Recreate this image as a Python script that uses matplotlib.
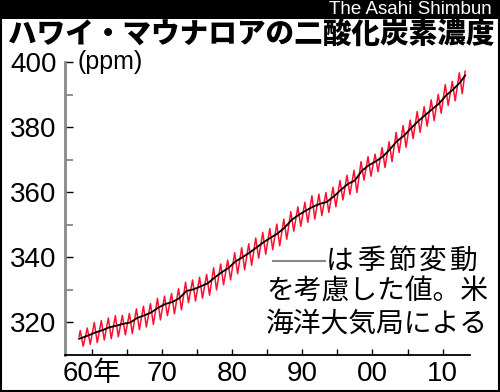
import matplotlib
matplotlib.use("Agg")
import matplotlib.pyplot as plt
import matplotlib.ticker as mticker
from matplotlib.patches import Rectangle
import numpy as np

# Mauna Loa CO2 (ppm)
years = np.arange(1958, 2013)

# seasonal high (around May) and low (around October) of each year
peak_may = [317.5, 318.3, 320.0, 320.6, 321.4, 322.1, 322.2, 322.8, 324.2, 325.0,
            325.8, 327.4, 328.1, 328.9, 330.4, 332.4, 333.1, 333.9, 334.8, 336.8,
            338.0, 339.2, 341.5, 343.0, 344.2, 346.0, 347.7, 348.9, 350.3, 351.8,
            354.1, 355.6, 357.0, 359.0, 359.5, 360.0, 361.6, 363.7, 365.3, 366.8,
            369.5, 371.0, 371.8, 373.8, 375.6, 378.5, 380.6, 382.3, 384.9, 386.4,
            388.5, 390.2, 393.2, 394.2, 396.8]
trough_oct = [312.7, 313.3, 313.8, 314.6, 315.0, 315.6, 316.2, 316.6, 317.8, 318.6,
              319.4, 320.8, 322.1, 322.7, 323.9, 326.1, 326.6, 327.5, 328.4, 330.0,
              331.6, 333.1, 335.0, 336.2, 337.6, 339.8, 341.0, 342.4, 343.6, 345.6,
              348.1, 349.6, 350.8, 351.8, 352.9, 353.9, 355.6, 357.7, 359.4, 360.0,
              363.8, 365.0, 366.4, 367.7, 369.5, 372.3, 373.9, 376.6, 378.5, 380.4,
              382.1, 384.4, 386.8, 388.2, 390.4]
# seasonally adjusted annual values
trend = [315.2, 316.0, 316.9, 317.6, 318.5, 319.0, 319.6, 320.0, 321.4, 322.2,
         323.1, 324.6, 325.7, 326.3, 327.5, 329.7, 330.2, 331.1, 332.0, 333.8,
         335.4, 336.8, 338.8, 340.1, 341.5, 343.1, 344.7, 346.1, 347.4, 349.2,
         351.6, 353.1, 354.4, 355.6, 356.5, 357.1, 358.8, 360.8, 362.6, 363.7,
         366.7, 368.4, 369.6, 371.1, 373.3, 375.8, 377.5, 379.8, 381.9, 383.8,
         385.6, 387.4, 389.9, 391.7, 393.9]
first_month = (1958, 3, 315.7, 315.0)   # year, month, monthly value, adjusted value
last_month = (2013, 3, 397.3, 396.0)

ytick_major = [320, 340, 360, 380, 400]
xtick_major = [1960, 1970, 1980, 1990, 2000, 2010]
xtick_labels = ['60年', '70', '80', '90', '00', '10']

title = 'ハワイ・マウナロアの二酸化炭素濃度'
note_first = 'は季節変動'
note_rest = 'を考慮した値。米\n海洋大気局による'

def dec(y, m):
    return y + (m - 0.5) / 12.0

# monthly zigzag
mx = [dec(first_month[0], first_month[1])]
my = [first_month[2]]
for y, p, t in zip(years, peak_may, trough_oct):
    mx += [dec(y, 5), dec(y, 10)]
    my += [p, t]
mx.append(dec(last_month[0], last_month[1]))
my.append(last_month[2])

tx = [dec(first_month[0], first_month[1])] + list(years + 0.5) + [dec(last_month[0], last_month[1])]
ty = [first_month[3]] + trend + [last_month[3]]

num_font = ['Liberation Sans', 'Noto Sans CJK JP']
jp_font = ['Noto Sans CJK JP', 'DejaVu Sans']

fig = plt.figure(figsize=(5.0, 3.92), dpi=100)
fig.patch.set_facecolor('white')

ax = fig.add_axes([0.13, 0.0944, 0.81, 0.7462])
ax.plot(mx, my, color='#ff1030', linewidth=1.1, zorder=2)
ax.plot(tx, ty, color='black', linewidth=1.3, zorder=3)

ax.set_xlim(1956.2, 2013.9)
ax.set_ylim(310, 400)

for s in ['top', 'right']:
    ax.spines[s].set_visible(False)
ax.spines['left'].set_color('#888888')
ax.spines['left'].set_linewidth(2)
ax.spines['left'].set_bounds(310, 400)
ax.spines['bottom'].set_color('black')
ax.spines['bottom'].set_linewidth(1.3)

ax.yaxis.set_major_locator(mticker.FixedLocator(ytick_major))
ax.yaxis.set_minor_locator(mticker.FixedLocator([330, 350, 370, 390]))
ax.xaxis.set_major_locator(mticker.FixedLocator(xtick_major))
ax.xaxis.set_minor_locator(mticker.FixedLocator([1965, 1975, 1985, 1995, 2005]))
ax.set_xticklabels(xtick_labels)
ax.tick_params(axis='y', which='major', direction='in', length=6, width=1, color='black', pad=6)
ax.tick_params(axis='y', which='minor', direction='in', length=6, width=1.3, color='#888888')
ax.tick_params(axis='x', which='both', direction='in', length=4, width=1, color='black', pad=4)
for lab in ax.get_yticklabels() + ax.get_xticklabels():
    lab.set_family(num_font)
    lab.set_fontsize(20)

ax.text(0.03, 1.0, '(ppm)', transform=ax.transAxes, family=num_font, fontsize=18,
        ha='left', va='center')

# note with legend line; first line is spread out to the full width
fig.add_artist(plt.Line2D([273 / 500, 325 / 500], [1 - 261 / 392, 1 - 261 / 392],
                          color='#888888', linewidth=1.5))
for i, ch in enumerate(note_first):
    fig.text((340 + 31 * i) / 500, 1 - 261 / 392, ch, family=jp_font, fontsize=20,
             ha='center', va='center')
fig.text(0.976, 1 - 277 / 392, note_rest, family=jp_font, fontsize=20, ha='right', va='top',
         linespacing=1.08)

# header
fig.add_artist(Rectangle((0, 1 - 19 / 392), 1, 19 / 392, transform=fig.transFigure,
                         facecolor='black', edgecolor='none'))
fig.text(0.984, 1 - 10 / 392, 'The Asahi Shimbun', family=['Liberation Sans', 'DejaVu Sans'],
         fontsize=13.5, color='white', ha='right', va='center')
fig.text(0.016, 1 - 34 / 392, title, family=jp_font, fontsize=20.6, fontweight='heavy',
         ha='left', va='center')

fig.add_artist(Rectangle((0.002, 0.003), 0.996, 0.994, transform=fig.transFigure,
                         facecolor='none', edgecolor='black', linewidth=1.5))

fig.savefig('out.png', dpi=100)
